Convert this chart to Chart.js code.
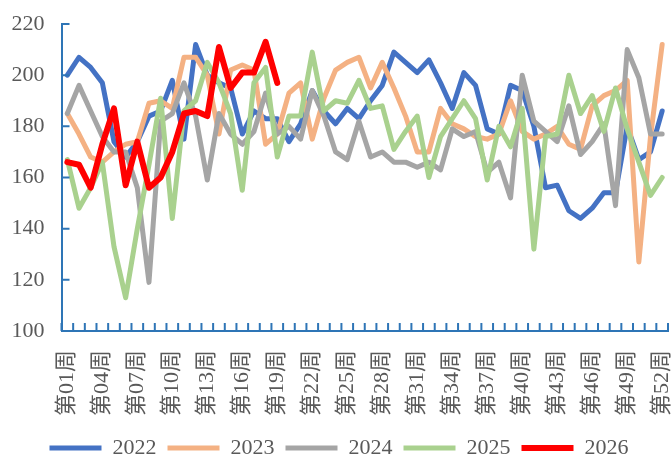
<!DOCTYPE html>
<html>
<head>
<meta charset="utf-8">
<script src="https://cdn.jsdelivr.net/npm/chart.js@4.4.1/dist/chart.umd.min.js"></script>
<style>
  body { margin: 0; background: #ffffff; }
</style>
</head>
<body>
<canvas id="lineChart" width="672" height="459"></canvas>
<script>
// DATA
const week_labels = [
  '第01周', '第02周', '第03周', '第04周', '第05周', '第06周', '第07周', '第08周', '第09周', '第10周',
  '第11周', '第12周', '第13周', '第14周', '第15周', '第16周', '第17周', '第18周', '第19周', '第20周',
  '第21周', '第22周', '第23周', '第24周', '第25周', '第26周', '第27周', '第28周', '第29周', '第30周',
  '第31周', '第32周', '第33周', '第34周', '第35周', '第36周', '第37周', '第38周', '第39周', '第40周',
  '第41周', '第42周', '第43周', '第44周', '第45周', '第46周', '第47周', '第48周', '第49周', '第50周',
  '第51周', '第52周'
];
const values_2022 = [200, 207, 203, 197, 174, 168, 174, 184, 186, 198, 175, 212, 200, 197, 195, 177, 186, 183, 183, 174,
  181, 194, 186, 181, 187, 183, 190, 196, 209, 205, 201, 206, 197, 187, 201, 196, 179, 177, 196, 194,
  180, 156, 157, 147, 144, 148, 154, 154, 180, 167, 170, 186];
const values_2023 = [185, 177, 168, 166, 170, 173, 174, 189, 190, 187, 207, 207, 200, 177, 202, 204, 202, 173, 177, 193,
  197, 175, 191, 202, 205, 207, 195, 205, 195, 184, 170, 170, 187, 181, 179, 176, 175, 177, 190, 178,
  175, 177, 180, 173, 171, 188, 192, 194, 198, 127, 176, 212];
const values_2024 = [185, 196, 186, 176, 170, 170, 156, 119, 182, 185, 197, 184, 159, 185, 177, 173, 178, 193, 177, 180,
  175, 194, 184, 170, 167, 182, 168, 170, 166, 166, 164, 166, 163, 179, 176, 178, 162, 166, 152, 200,
  182, 178, 174, 188, 169, 174, 181, 149, 210, 199, 177, 177];
const values_2025 = [167, 148, 156, 166, 133, 113, 140, 165, 191, 144, 186, 190, 205, 197, 185, 155, 197, 203, 168, 184,
  184, 209, 186, 190, 189, 198, 187, 188, 171, 178, 184, 160, 176, 183, 190, 183, 159, 180, 172, 187,
  132, 176, 177, 200, 185, 192, 178, 195, 179, 166, 153, 160];
const values_2026 = [166, 165, 156, 173, 187, 157, 174, 156, 160, 170, 185, 186, 184, 211, 195, 201, 201, 213, 197];
const y_ticks = [100, 120, 140, 160, 180, 200, 220];

const series_names  = ['2022', '2023', '2024', '2025', '2026'];
const series_values = [values_2022, values_2023, values_2024, values_2025, values_2026];
const series_colors = ['#4472C4', '#F4B183', '#A5A5A5', '#A9D18E', '#FF0000'];

const axis_color = '#2E75B6';
const text_color = '#595959';
const font_family = "'Liberation Serif', 'Noto Sans CJK SC', serif";

// inward tick marks, like the excel original
const innerTicks = {
  id: 'innerTicks',
  afterDraw: function(chart) {
    var ctx  = chart.ctx;
    var area = chart.chartArea;
    var xs   = chart.scales.x;
    var ys   = chart.scales.y;
    var step = xs.getPixelForValue(1) - xs.getPixelForValue(0);

    ctx.save();
    ctx.strokeStyle = axis_color;
    ctx.lineWidth = 2;
    ctx.beginPath();
    y_ticks.forEach(function(v) {
      var py = ys.getPixelForValue(v);
      ctx.moveTo(area.left, py);
      ctx.lineTo(area.left + 8, py);
    });
    for (var k = 0; k <= week_labels.length; k++) {
      var px = xs.getPixelForValue(0) - step / 2 + k * step;
      ctx.moveTo(px, area.bottom);
      ctx.lineTo(px, area.bottom - 8);
    }
    ctx.stroke();
    ctx.restore();
  }
};

function chartMethods() {
  // Line Chart Start
  const line_data = {
    labels: week_labels,
    datasets: series_names.map(function(name, i) {
      return {
        label: name,
        data: series_values[i],
        borderColor: series_colors[i],
        backgroundColor: series_colors[i],
        borderWidth: i === 4 ? 6 : 5,
        borderCapStyle: 'round',
        borderJoinStyle: 'round',
        pointRadius: 0,
        tension: 0,
        order: 4 - i
      };
    })
  };
  const line_config = {
    type: 'line',
    data: line_data,
    options: {
      responsive: false,
      animation: false,
      devicePixelRatio: 1,
      layout: {
        padding: { left: 10, top: 24, right: 4, bottom: 0 }
      },
      plugins: {
        tooltip: { enabled: false },
        legend: {
          position: 'bottom',
          maxHeight: 33,
          labels: {
            usePointStyle: true,
            pointStyle: 'line',
            pointStyleWidth: 52,
            padding: 11,
            color: text_color,
            font: { family: font_family, size: 22 },
            sort: function(a, b) { return a.datasetIndex - b.datasetIndex; }
          }
        }
      },
      scales: {
        x: {
          offset: true,
          grid: { display: true, drawOnChartArea: false, drawTicks: false, offset: true },
          border: { display: true, color: axis_color, width: 2 },
          afterFit: function(scale) {
            scale.height = 95;
            scale.paddingLeft = 0;
            scale.paddingRight = 0;
          },
          ticks: {
            autoSkip: false,
            minRotation: 90,
            maxRotation: 90,
            padding: 19,
            color: text_color,
            font: { family: font_family, size: 22 },
            callback: function(value, index) {
              return index % 3 === 0 ? week_labels[index] : '';
            }
          }
        },
        y: {
          min: 100,
          max: 220,
          grid: { display: true, drawOnChartArea: false, drawTicks: false },
          border: { display: true, color: axis_color, width: 2 },
          afterFit: function(scale) {
            scale.width = 51.5;
            scale.paddingTop = 0;
            scale.paddingBottom = 0;
          },
          ticks: {
            stepSize: 20,
            padding: 17,
            color: text_color,
            font: { family: font_family, size: 22 }
          }
        }
      }
    },
    plugins: [innerTicks]
  };
  var lineChart = new Chart(document.getElementById('lineChart'), line_config);
  // Line Chart End
}

chartMethods();
</script>
</body>
</html>
